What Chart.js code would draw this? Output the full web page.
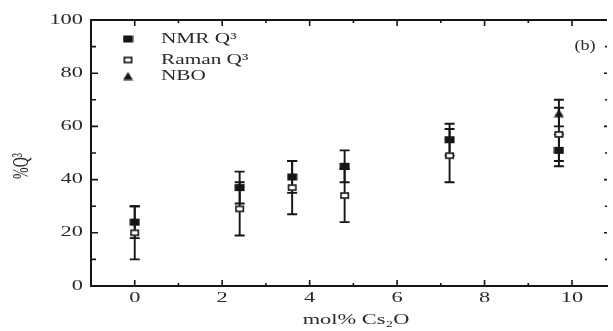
<!DOCTYPE html>
<html><head><meta charset="utf-8">
<script src="https://cdn.jsdelivr.net/npm/chart.js@4/dist/chart.umd.min.js"></script>
<style>html,body{margin:0;padding:0;background:#fff}</style>
</head><body>
<canvas id="c" width="613" height="331"></canvas>
<script>
// ---- data ----
const csContent = [0, 2.4, 3.6, 4.8, 7.2, 9.7];
const nmrQ3 = [24, 37, 41, 45, 55, 51];
const nmrErr = [6, 6, 6, 6, 6, 6];
const ramanQ3 = [20, 29, 37, 34, 49, 57];
const ramanErr = [10, 10, 10, 10, 10, 10];
const nboX = [9.7];
const nboQ3 = [65];
const nboErr = [5];
const xTicks = [0, 2, 4, 6, 8, 10];
const yTicks = [0, 20, 40, 60, 80, 100];
const seriesNames = ['NMR Q\u00B3', 'Raman Q\u00B3', 'NBO'];
const xTitle = 'mol% Cs\u2082O';
const yTitle = '%Q\u00B3';
const panelLabel = '(b)';

const INK = '#151515';
const TXT = '#2a2a2a';
const FONT = '"Liberation Serif", "Times New Roman", serif';
const SX = 1.6; // horizontal stretch of the reference text

function makeMarker(kind) {
  const c = document.createElement('canvas');
  c.width = 11; c.height = 9;
  const g = c.getContext('2d');
  if (kind === 'filled') { g.fillStyle = INK; g.fillRect(0.5, 1, 10, 7); }
  else if (kind === 'open') {
    g.fillStyle = '#fff'; g.fillRect(1, 1.5, 9, 6);
    g.strokeStyle = INK; g.lineWidth = 1.6; g.strokeRect(1.8, 2, 7.4, 5);
  } else {
    g.fillStyle = INK; g.beginPath(); g.moveTo(5.5, 0.5); g.lineTo(10.5, 8.5); g.lineTo(0.5, 8.5); g.closePath(); g.fill();
  }
  return c;
}
const mNmr = makeMarker('filled'), mRaman = makeMarker('open'), mNbo = makeMarker('tri');

const toPts = (xs, ys) => xs.map((x, i) => ({x: x, y: ys[i]}));

function sText(ctx, str, x, y, align, sx) {
  ctx.save();
  ctx.translate(x, y);
  ctx.scale(sx, 1);
  ctx.textAlign = align;
  ctx.fillText(str, 0, 0);
  ctx.restore();
}

const errorBars = {
  id: 'errorBars',
  beforeDatasetsDraw(chart) {
    const ctx = chart.ctx, xs = chart.scales.x, ys = chart.scales.y;
    ctx.save();
    ctx.strokeStyle = INK; ctx.lineWidth = 1.9;
    chart.data.datasets.forEach(ds => {
      ds.data.forEach((p, i) => {
        const e = ds.err[i];
        const px = xs.getPixelForValue(p.x);
        const y1 = ys.getPixelForValue(p.y + e), y2 = ys.getPixelForValue(p.y - e);
        ctx.beginPath();
        ctx.moveTo(px, y1); ctx.lineTo(px, y2);
        ctx.moveTo(px - 5, y1); ctx.lineTo(px + 5, y1);
        ctx.moveTo(px - 5, y2); ctx.lineTo(px + 5, y2);
        ctx.stroke();
      });
    });
    ctx.restore();
  }
};

const frame = {
  id: 'frame',
  afterDraw(chart) {
    const ctx = chart.ctx, xs = chart.scales.x, ys = chart.scales.y, a = chart.chartArea;
    ctx.save();
    ctx.strokeStyle = INK; ctx.lineWidth = 2;
    ctx.beginPath(); ctx.moveTo(a.left, a.top); ctx.lineTo(a.right, a.top); ctx.stroke();
    ctx.lineWidth = 1.6;
    ctx.beginPath();
    for (let v = 0; v <= 10; v++) {
      const px = xs.getPixelForValue(v);
      const L = v % 2 === 0 ? 6 : 3;
      ctx.moveTo(px, a.bottom); ctx.lineTo(px, a.bottom - L);
      ctx.moveTo(px, a.top); ctx.lineTo(px, a.top + L);
    }
    for (let v = 0; v <= 100; v += 10) {
      const py = ys.getPixelForValue(v);
      const L = v % 20 === 0 ? 7 : 5;
      ctx.moveTo(a.left, py); ctx.lineTo(a.left + L, py);
      ctx.moveTo(a.right, py); ctx.lineTo(a.right - (v % 20 === 0 ? 3 : 2), py);
    }
    ctx.stroke();

    ctx.fillStyle = TXT;
    ctx.font = '14px ' + FONT;
    ctx.textBaseline = 'middle';
    // tick labels
    xTicks.forEach(v => sText(ctx, String(v), xs.getPixelForValue(v), 298, 'center', SX));
    yTicks.forEach(v => sText(ctx, String(v), 83, ys.getPixelForValue(v), 'right', SX));
    // axis titles
    ctx.textBaseline = 'alphabetic';
    sText(ctx, xTitle, 356, 324, 'center', SX);
    ctx.save();
    ctx.translate(28, 166); ctx.rotate(-Math.PI / 2); ctx.scale(1, SX);
    ctx.textAlign = 'center';
    ctx.fillText(yTitle, 0, 0);
    ctx.restore();
    ctx.textBaseline = 'middle';
    sText(ctx, panelLabel, 585, 46, 'center', 1.3);

    // legend
    const marks = [mNmr, mRaman, mNbo];
    const rows = [39, 60, 76];
    rows.forEach((ry, i) => {
      ctx.drawImage(marks[i], 128 - 5.5, ry - 4.5);
      sText(ctx, seriesNames[i], 161, ry, 'left', 1.52);
    });
    ctx.restore();
  }
};

new Chart(document.getElementById('c'), {
  type: 'scatter',
  data: {
    datasets: [
      {label: seriesNames[0], data: toPts(csContent, nmrQ3), err: nmrErr, pointStyle: mNmr, pointRadius: 5, order: 3},
      {label: seriesNames[1], data: toPts(csContent, ramanQ3), err: ramanErr, pointStyle: mRaman, pointRadius: 5, order: 2},
      {label: seriesNames[2], data: toPts(nboX, nboQ3), err: nboErr, pointStyle: mNbo, pointRadius: 5, order: 1}
    ]
  },
  options: {
    responsive: false,
    animation: false,
    devicePixelRatio: 1,
    layout: {padding: {top: 20, right: 0, left: 0, bottom: 0}},
    plugins: {legend: {display: false}, tooltip: {enabled: false}},
    scales: {
      x: {
        type: 'linear', min: -1, max: 10.8,
        afterBuildTicks: s => { s.ticks = xTicks.map(v => ({value: v})); },
        afterFit: s => { s.height = 45; s.paddingLeft = 0; s.paddingRight = 0; },
        grid: {display: false, drawTicks: false},
        border: {display: true, color: INK, width: 2},
        ticks: {display: false}
      },
      y: {
        type: 'linear', min: 0, max: 100,
        afterBuildTicks: s => { s.ticks = yTicks.map(v => ({value: v})); },
        afterFit: s => { s.width = 91; s.paddingTop = 0; s.paddingBottom = 0; },
        grid: {display: false, drawTicks: false},
        border: {display: true, color: INK, width: 2},
        ticks: {display: false}
      }
    }
  },
  plugins: [errorBars, frame]
});
</script>
</body></html>
